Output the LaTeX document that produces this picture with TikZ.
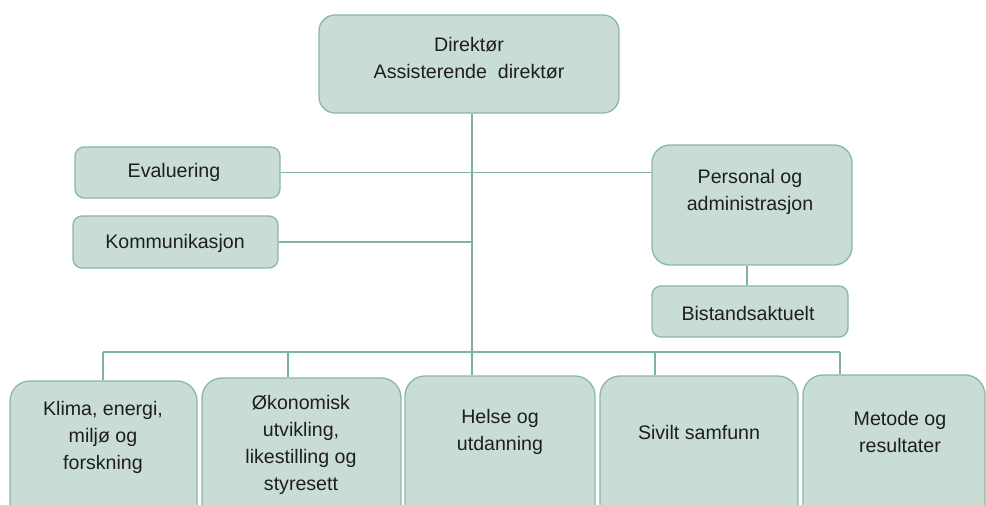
\documentclass[tikz,border=0pt]{standalone}
\usepackage{fontspec}
\setmainfont{Liberation Sans}
\definecolor{boxfill}{RGB}{201,221,213}
\definecolor{boxline}{RGB}{138,184,166}
\definecolor{conn}{RGB}{128,178,160}
\definecolor{txt}{RGB}{30,30,30}
\begin{document}
\begin{tikzpicture}[x=1pt,y=-1pt,
  box/.style={draw=boxline, fill=boxfill, line width=1.3pt, rounded corners=#1, inner sep=0pt, shape=rectangle},
  lbl/.style={text=txt, align=center, inner sep=0pt, font=\fontsize{19.6}{27}\selectfont},
  link/.style={draw=conn, line width=1.4pt}]
\clip (0,0) rectangle (986,505);
\fill[white] (0,0) rectangle (986,505);
% boxes
\node[box=16pt, minimum width=300pt, minimum height=98pt] (dir) at (469,64) {};
\node[box=9pt, minimum width=205pt, minimum height=51pt] (eval) at (177.5,172.5) {};
\node[box=9pt, minimum width=205pt, minimum height=52pt] (komm) at (175.5,242) {};
\node[box=18pt, minimum width=200pt, minimum height=120pt] (pers) at (752,205) {};
\node[box=9pt, minimum width=196pt, minimum height=51pt] (bist) at (750,311.5) {};
\node[box=20pt, minimum width=187pt, minimum height=144pt] (b1) at (103.5,453) {};
\node[box=20pt, minimum width=199pt, minimum height=147pt] (b2) at (301.5,451.5) {};
\node[box=20pt, minimum width=190pt, minimum height=149pt] (b3) at (500,450.5) {};
\node[box=20pt, minimum width=198pt, minimum height=149pt] (b4) at (699,450.5) {};
\node[box=20pt, minimum width=182pt, minimum height=150pt] (b5) at (894,450) {};
% bus coordinates
\coordinate (d1) at (103,352);
\coordinate (d2) at (288,352);
\coordinate (d3) at (472,352);
\coordinate (d4) at (655,352);
\coordinate (d5) at (840,352);
% connectors
\draw[link] ([xshift=3pt]dir.south) -- (d3);
\draw[link] (eval.east) -- (eval.east -| pers.west);
\draw[link] (komm.east) -- (komm.east -| d3);
\draw[link] ([xshift=-5pt]pers.south) -- ([xshift=-5pt]pers.south |- bist.north);
\draw[link] (d1) -- (d5);
\draw[link] (d1) -- (d1 |- b1.north);
\draw[link] (d2) -- (d2 |- b2.north);
\draw[link] (d3) -- (d3 |- b3.north);
\draw[link] (d4) -- (d4 |- b4.north);
\draw[link] (d5) -- (d5 |- b5.north);
% labels
\node[lbl] (tdir) at (469,58) {Direktør\\Assisterende\ \ direktør};
\node[lbl] (teval) at (174,172) {Evaluering};
\node[lbl] (tkomm) at (175,243) {Kommunikasjon};
\node[lbl] (tpers) at (750,192) {Personal og\\administrasjon};
\node[lbl] (tbist) at (748,313) {Bistandsaktuelt};
\node[lbl] (tb1) at (103,437) {Klima, energi,\\miljø og\\forskning};
\node[lbl] (tb2) at (301,445) {Økonomisk\\utvikling,\\likestilling og\\styresett};
\node[lbl] (tb3) at (500,432) {Helse og\\utdanning};
\node[lbl] (tb4) at (699,432) {Sivilt samfunn};
\node[lbl] (tb5) at (900,432) {Metode og\\resultater};
\end{tikzpicture}
\end{document}
